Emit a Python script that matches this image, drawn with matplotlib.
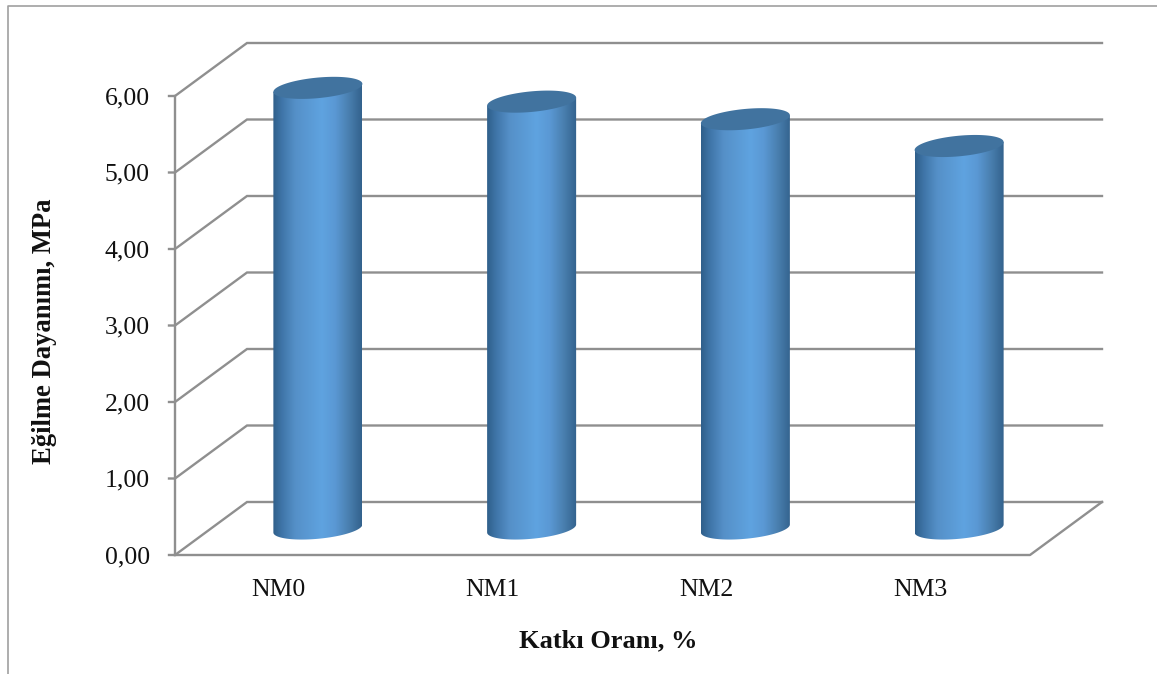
import matplotlib
matplotlib.use("Agg")
import matplotlib.pyplot as plt
import numpy as np
from matplotlib.colors import LinearSegmentedColormap
from matplotlib.patches import PathPatch, Polygon
from matplotlib.path import Path

categories = ["NM0", "NM1", "NM2", "NM3"]
values = [5.76, 5.58, 5.35, 5.00]
y_ticks = [0, 1, 2, 3, 4, 5, 6]

W, H = 1157, 674
X0, Y0 = 175, 555          # origin of the front plane, pixels
CAT_W = 213.75             # pixels per category
UNIT_H = 76.5              # pixels per MPa
DEPTH_X = 72 / CAT_W       # box depth in data units
DEPTH_Y = 53 / UNIT_H
GRID = "#8f8f8f"

plt.rcParams["font.family"] = ["Liberation Serif", "DejaVu Serif"]

fig = plt.figure(figsize=(W / 100, H / 100), dpi=100)
ax = fig.add_axes([0, 0, 1, 1])
ax.axis("off")

# outer chart border
fig.add_artist(plt.Line2D([7.5 / W, 7.5 / W, 1], [0, 1 - 5.5 / H, 1 - 5.5 / H], color="#a0a0a0", lw=1.2))

n = len(categories)

# back wall gridlines with the diagonal side wall segments
for v in y_ticks:
    ax.plot([-6 / CAT_W, 0, DEPTH_X, n + DEPTH_X],
            [v, v, v + DEPTH_Y, v + DEPTH_Y],
            color=GRID, lw=1.7, solid_joinstyle="miter", zorder=1)
ax.plot([0, 0], [0, y_ticks[-1]], color=GRID, lw=1.7, zorder=1)
ax.plot([0, n, n + DEPTH_X], [0, 0, DEPTH_Y], color=GRID, lw=1.7, zorder=1)

cyl_cmap = LinearSegmentedColormap.from_list(
    "cyl",
    [(0.0, "#2f5f8a"), (0.1, "#3f75a8"), (0.25, "#5590c8"), (0.55, "#5fa3e0"),
     (0.7, "#5a98d4"), (0.85, "#4a80b0"), (1.0, "#33628d")],
)

half_w = 44.5 / CAT_W
tilt = 4 / UNIT_H
minor = 10.3 / UNIT_H
t = np.linspace(0, 2 * np.pi, 121)
lower = t[60:]                # pi..2pi, the front half of the ellipse

for i, v in enumerate(values):
    cx = i + 0.5 + DEPTH_X / 2
    base = DEPTH_Y / 2
    top = v + DEPTH_Y / 2

    # lower arc runs left to right, then up the right side and back across the top
    xs = np.concatenate([cx + half_w * np.cos(lower), [cx + half_w, cx - half_w]])
    ys = np.concatenate([base + tilt * np.cos(lower) + minor * np.sin(lower), [top + tilt, top - tilt]])
    body = Polygon(np.column_stack([xs, ys]), closed=True, fc="none", ec="none")
    ax.add_patch(body)

    grad = ax.imshow(np.linspace(0, 1, 256).reshape(1, -1), cmap=cyl_cmap, aspect="auto",
                     extent=(cx - half_w, cx + half_w, base - 2 * minor, top + 2 * minor),
                     zorder=3, interpolation="bilinear")
    grad.set_clip_path(body)

    cap = np.column_stack([cx + half_w * np.cos(t), top + tilt * np.cos(t) + minor * np.sin(t)])
    ax.add_patch(PathPatch(Path(cap, closed=True), fc="#41739f", ec="none", zorder=4))

# imshow resets the limits, so these come last
ax.set_xlim(-X0 / CAT_W, (W - X0) / CAT_W)
ax.set_ylim((Y0 - H) / UNIT_H, Y0 / UNIT_H)

for v in y_ticks:
    ax.text(-25 / CAT_W, v - 2 / UNIT_H, f"{v:.2f}".replace(".", ","), ha="right", va="center",
            fontsize=18.5, color="#111111")
for i, name in enumerate(categories):
    ax.text(i + 0.5 - 3 / CAT_W, -35 / UNIT_H, name, ha="center", va="center", fontsize=18.5, color="#111111")

ax.text(608 / W, 1 - 641 / H, "Katkı Oranı, %", transform=fig.transFigure, ha="center", va="center",
        fontsize=19, fontweight="bold", color="#111111")
ax.text(45 / W, 1 - 331 / H, "Eğilme Dayanımı, MPa", transform=fig.transFigure, ha="center", va="center",
        rotation=90, fontsize=19.2, fontweight="bold", color="#111111")

fig.savefig("out.png", dpi=100)
plt.close(fig)
